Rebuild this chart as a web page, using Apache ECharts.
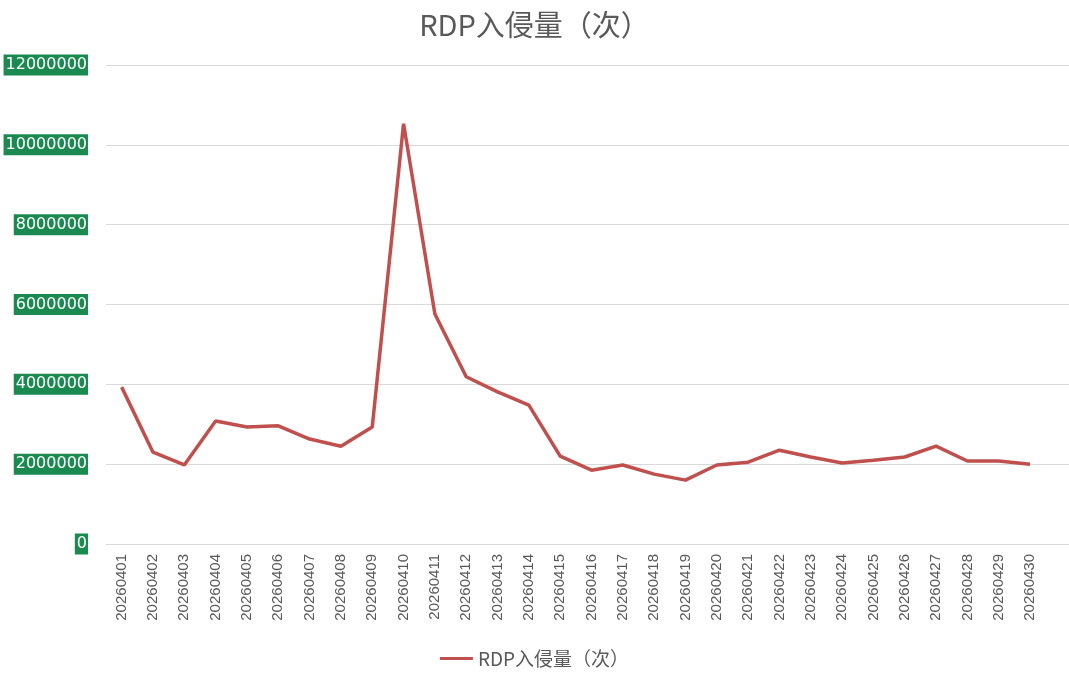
<!DOCTYPE html>
<html>
<head>
<meta charset="utf-8">
<script src="https://cdn.jsdelivr.net/npm/echarts@6/dist/echarts.min.js"></script>
<style>
    html, body { margin: 0; padding: 0; background: #fff; }
    #chart { width: 1069px; height: 673px; }
</style>
</head>
<body>
<div id="chart"></div>
<script>
// 日期
var dates = ['20260401','20260402','20260403','20260404','20260405','20260406','20260407','20260408','20260409','20260410',
    '20260411','20260412','20260413','20260414','20260415','20260416','20260417','20260418','20260419','20260420',
    '20260421','20260422','20260423','20260424','20260425','20260426','20260427','20260428','20260429','20260430'];
// RDP入侵量（次）
var rdpCount = [3930000, 2300000, 1980000, 3080000, 2930000, 2960000, 2630000, 2450000, 2930000, 10530000,
    5760000, 4190000, 3810000, 3480000, 2200000, 1850000, 1980000, 1750000, 1600000, 1980000,
    2050000, 2350000, 2180000, 2030000, 2100000, 2180000, 2450000, 2080000, 2080000, 2000000];
var yTicks = [0, 2000000, 4000000, 6000000, 8000000, 10000000, 12000000];

var chart = echarts.init(document.getElementById('chart'));
var option = {
    animation: false,
    title: {
        text: 'RDP入侵量（次）',
        left: 'center',
        top: 5,
        textStyle: {
            color: '#595959',
            fontSize: 29,
            fontWeight: 'normal',
            fontFamily: 'Noto Sans CJK SC'
        }
    },
    legend: {
        bottom: 0,
        left: 'center',
        icon: 'rect',
        itemWidth: 33,
        itemHeight: 3,
        itemGap: 4,
        textStyle: { color: '#595959', fontSize: 19, fontFamily: 'Noto Sans CJK SC' },
        data: ['RDP入侵量（次）']
    },
    grid: {
        left: 106,
        right: -8,
        top: 65,
        bottom: 129,
        containLabel: false,
        outerBoundsMode: 'none'
    },
    xAxis: {
        type: 'category',
        boundaryGap: true,
        data: dates,
        max: dates.length,
        axisLine: { lineStyle: { color: '#d9d9d9' } },
        axisTick: { show: false },
        axisLabel: {
            rotate: 90,
            interval: 0,
            margin: 10,
            color: '#595959',
            fontSize: 15,
            fontFamily: 'Liberation Sans'
        }
    },
    yAxis: {
        type: 'value',
        min: yTicks[0],
        max: yTicks[yTicks.length - 1],
        interval: yTicks[1] - yTicks[0],
        axisLine: { show: false },
        axisTick: { show: false },
        axisLabel: {
            margin: 18,
            color: '#ffffff',
            fontSize: 16,
            fontFamily: 'DejaVu Sans',
            backgroundColor: '#1a8a50',
            padding: [3, 1, 2, 2],
            formatter: function (v) { return String(v); }
        },
        splitLine: { lineStyle: { color: '#d9d9d9', width: 1 } }
    },
    series: [{
        name: 'RDP入侵量（次）',
        type: 'line',
        data: rdpCount,
        symbol: 'none',
        color: '#c0504d',
        lineStyle: { width: 3.5, color: '#c0504d' }
    }]
};
chart.setOption(option);
</script>
</body>
</html>
